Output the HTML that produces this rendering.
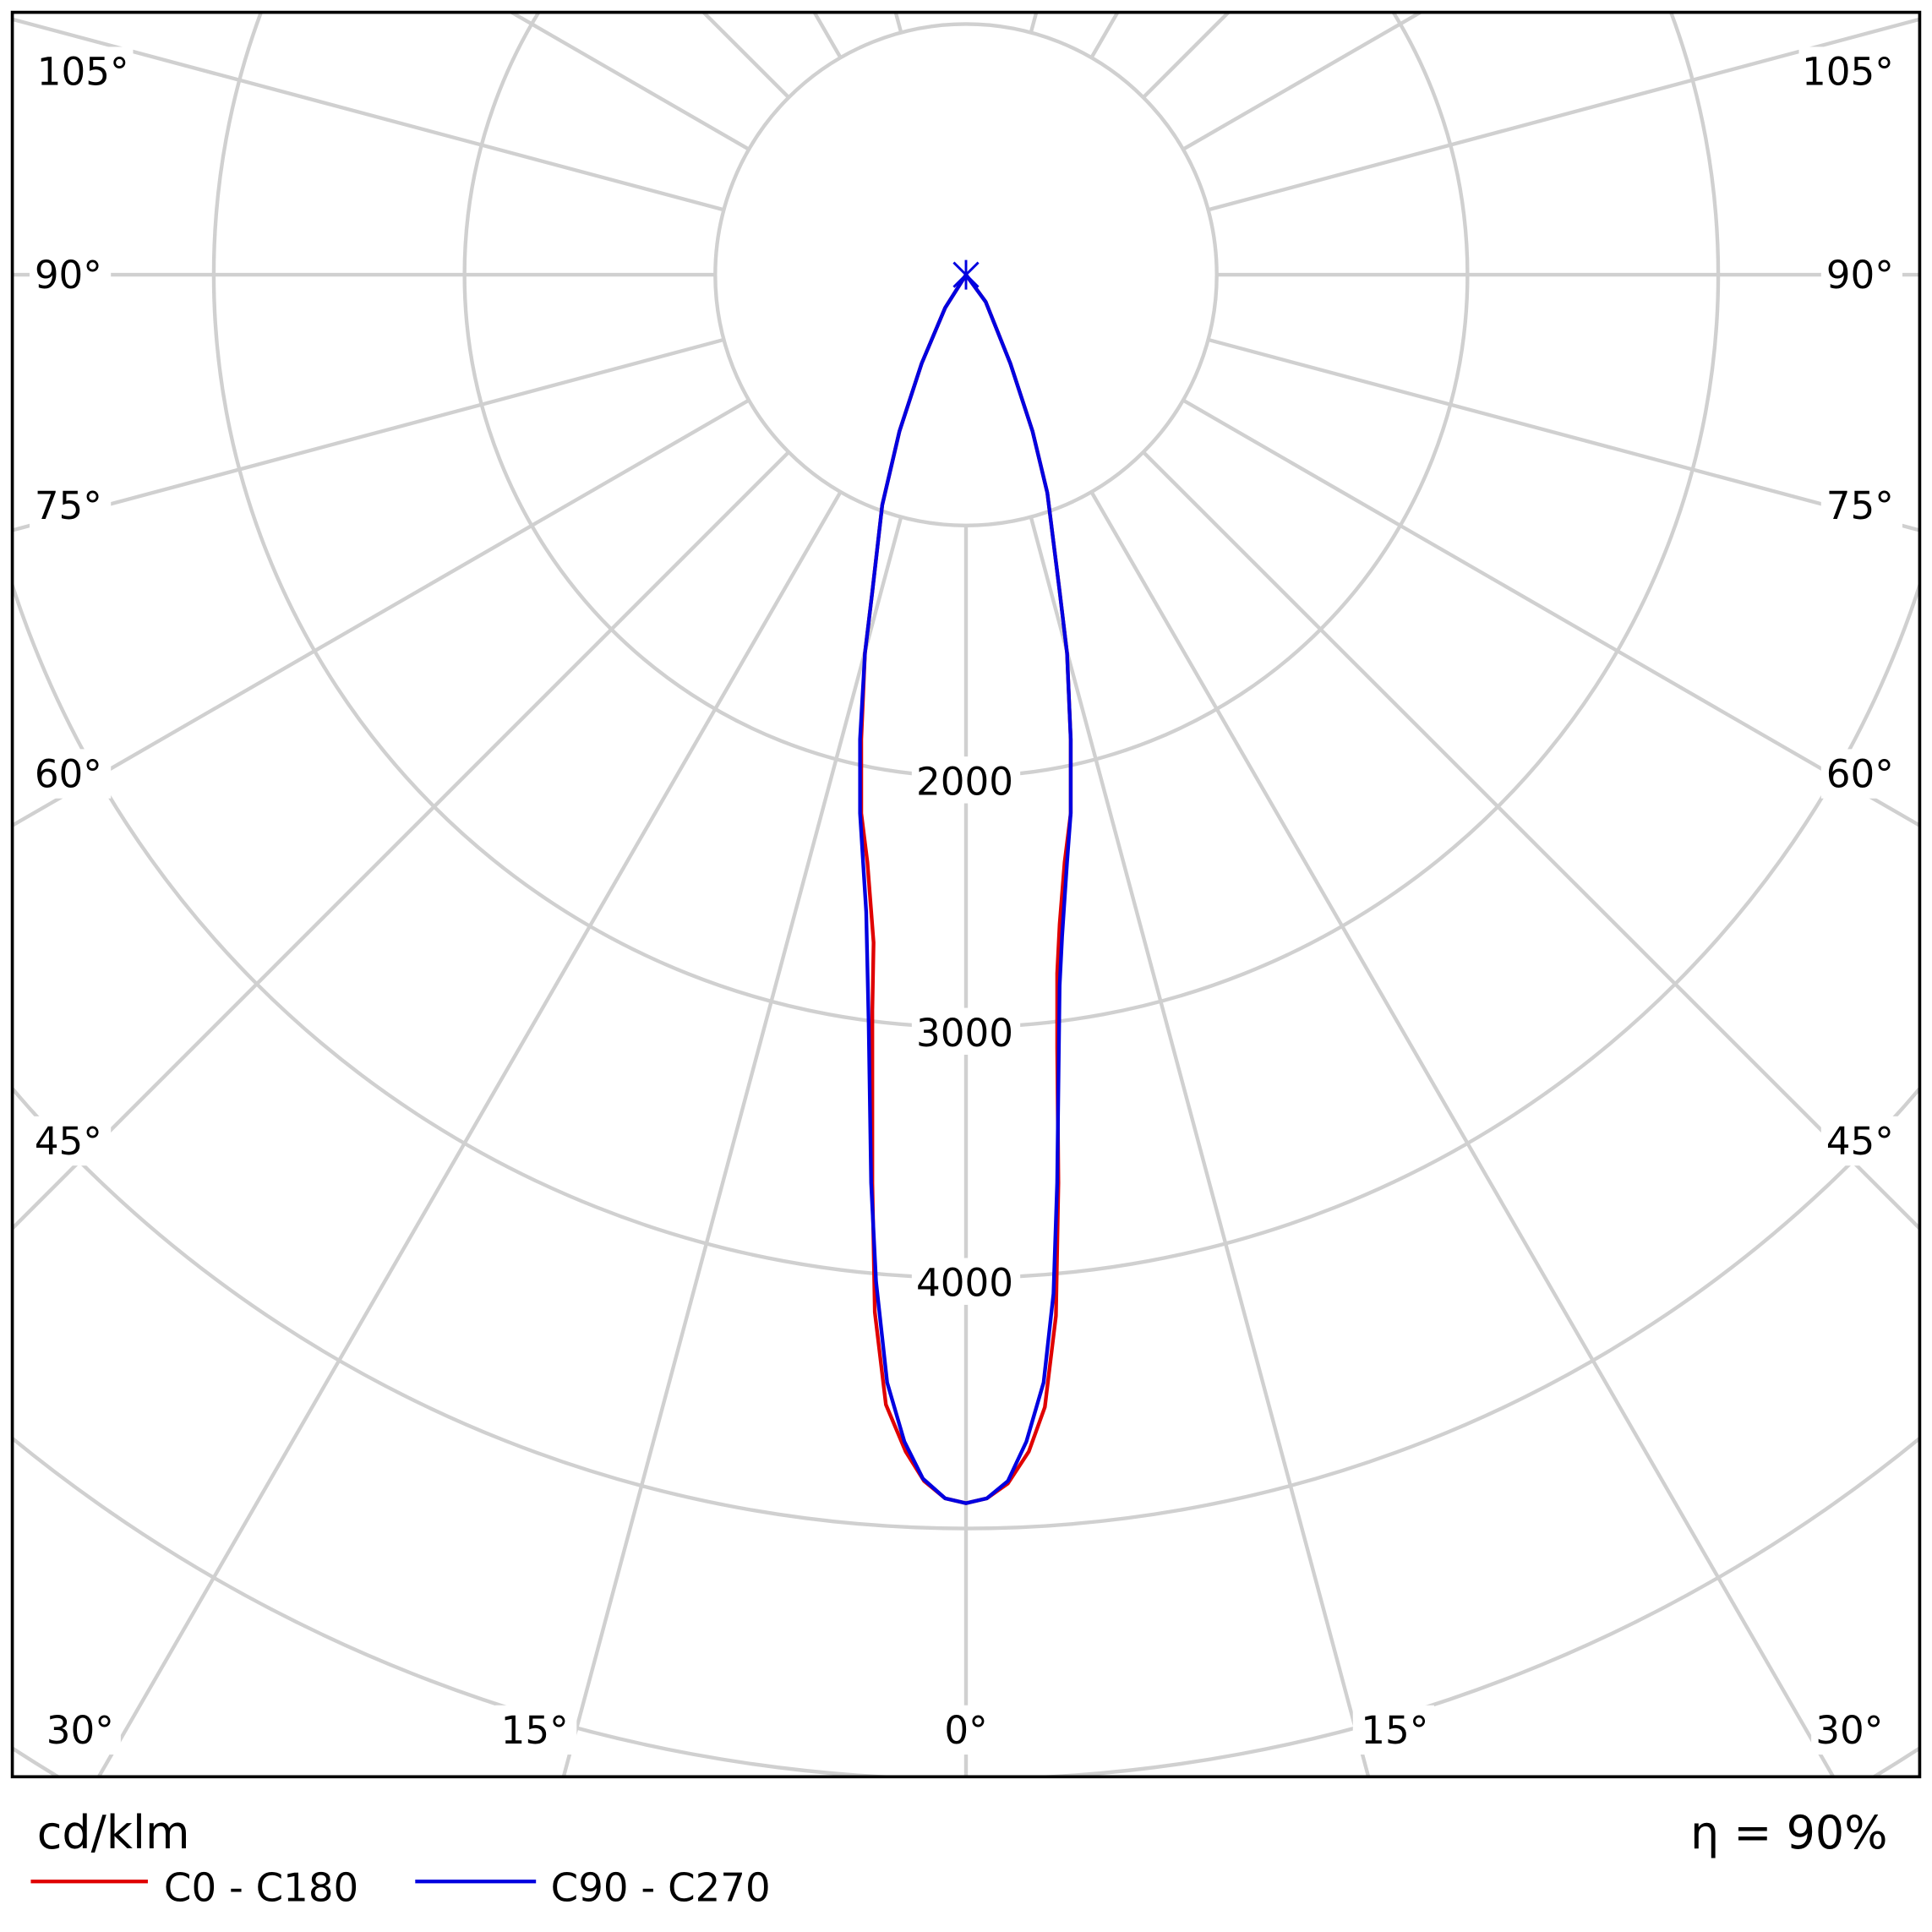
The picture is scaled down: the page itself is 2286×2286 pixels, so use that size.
<!DOCTYPE html>
<html><head><meta charset="utf-8"><style>
html,body{margin:0;padding:0;background:#fff;width:2286px;height:2286px;overflow:hidden;position:relative}
svg{display:block;position:absolute;left:0;top:0;line-height:0}
text{font-family:"DejaVu Sans","Liberation Sans",sans-serif;fill:#000}
</style></head><body>
<svg width="2286" height="2286" viewBox="0 0 1568 1568" xmlns="http://www.w3.org/2000/svg">
<defs><clipPath id="c"><rect x="10" y="10" width="1548" height="1432"/></clipPath></defs>
<rect width="1568" height="1568" fill="#fff"/>
<g clip-path="url(#c)" stroke="#d0d0d0" stroke-width="3" fill="none">
<circle cx="784" cy="223" r="203.5"/>
<circle cx="784" cy="223" r="407"/>
<circle cx="784" cy="223" r="610.5"/>
<circle cx="784" cy="223" r="814"/>
<circle cx="784" cy="223" r="1017.5"/>
<circle cx="784" cy="223" r="1221"/>
<circle cx="784" cy="223" r="1424.5"/>
<circle cx="784" cy="223" r="1628"/>
<g transform="translate(784,223)">
<line x1="0" y1="203.5" x2="0" y2="2500"/>
<line x1="52.7" y1="196.6" x2="647" y2="2415"/>
<line x1="-52.7" y1="196.6" x2="-647" y2="2415"/>
<line x1="101.8" y1="176.2" x2="1250" y2="2165"/>
<line x1="-101.8" y1="176.2" x2="-1250" y2="2165"/>
<line x1="143.9" y1="143.9" x2="1768" y2="1768"/>
<line x1="-143.9" y1="143.9" x2="-1768" y2="1768"/>
<line x1="176.2" y1="101.8" x2="2165" y2="1250"/>
<line x1="-176.2" y1="101.8" x2="-2165" y2="1250"/>
<line x1="196.6" y1="52.7" x2="2415" y2="647"/>
<line x1="-196.6" y1="52.7" x2="-2415" y2="647"/>
<line x1="203.5" y1="0" x2="2500" y2="0"/>
<line x1="-203.5" y1="0" x2="-2500" y2="0"/>
<line x1="196.6" y1="-52.7" x2="2415" y2="-647"/>
<line x1="-196.6" y1="-52.7" x2="-2415" y2="-647"/>
<line x1="176.2" y1="-101.8" x2="2165" y2="-1250"/>
<line x1="-176.2" y1="-101.8" x2="-2165" y2="-1250"/>
<line x1="143.9" y1="-143.9" x2="1768" y2="-1768"/>
<line x1="-143.9" y1="-143.9" x2="-1768" y2="-1768"/>
<line x1="101.8" y1="-176.2" x2="1250" y2="-2165"/>
<line x1="-101.8" y1="-176.2" x2="-1250" y2="-2165"/>
<line x1="52.7" y1="-196.6" x2="647" y2="-2415"/>
<line x1="-52.7" y1="-196.6" x2="-647" y2="-2415"/>
</g>
</g>
<g font-size="31" text-anchor="middle">
<rect x="740" y="614" width="88" height="38" fill="#fff"/><text x="783" y="645">2000</text>
<rect x="740" y="818" width="88" height="38" fill="#fff"/><text x="783" y="849">3000</text>
<rect x="740" y="1021" width="88" height="38" fill="#fff"/><text x="783" y="1052">4000</text>
</g>
<g font-size="31">
<g fill="#fff">
<rect x="24" y="38" width="84" height="40"/><rect x="1460" y="38" width="84" height="40"/>
<rect x="24" y="203" width="66" height="40"/><rect x="1478" y="203" width="66" height="40"/>
<rect x="24" y="390" width="66" height="40"/><rect x="1478" y="390" width="66" height="40"/>
<rect x="24" y="608" width="66" height="40"/><rect x="1478" y="608" width="66" height="40"/>
<rect x="24" y="906" width="66" height="40"/><rect x="1478" y="906" width="66" height="40"/>
<rect x="32" y="1384" width="66" height="40"/><rect x="1470" y="1384" width="66" height="40"/>
<rect x="402" y="1384" width="66" height="40"/><rect x="1098" y="1384" width="66" height="40"/>
<rect x="760" y="1384" width="48" height="40"/>
</g>
<text x="30" y="69">105°</text><text x="1537" y="69" text-anchor="end">105°</text>
<text x="28" y="234">90°</text><text x="1537" y="234" text-anchor="end">90°</text>
<text x="28" y="421">75°</text><text x="1537" y="421" text-anchor="end">75°</text>
<text x="28" y="639">60°</text><text x="1537" y="639" text-anchor="end">60°</text>
<text x="28" y="937">45°</text><text x="1537" y="937" text-anchor="end">45°</text>
<text x="65" y="1415" text-anchor="middle">30°</text><text x="1501" y="1415" text-anchor="middle">30°</text>
<text x="434" y="1415" text-anchor="middle">15°</text><text x="1132" y="1415" text-anchor="middle">15°</text>
<text x="784" y="1415" text-anchor="middle">0°</text>
</g>
<g fill="none" stroke-width="3" stroke-linejoin="round">
<polyline stroke="#e00000" points="784,223 767,250 748,295 730,350 716,410 708,480 702,530 699,600 699,660 704,700 709,765 708,820 708,960 710,1065 719,1140 735,1178 750,1202 767,1216 784,1220 801,1216 818,1204 835,1178 848,1142 857,1068 859,960 858,850 858,790 860,750 864,700 869,660 869,600 866,530 860,480 850,400 838,350 820,295 800,245 784,223"/>
<polyline stroke="#0000e0" points="784,223 767,250 748,295 730,350 716,410 708,480 702,530 698,600 698,660 703,740 705,830 707,960 711,1040 720,1122 734,1170 749,1200 767,1216 784,1220 801,1216 818,1202 833,1170 847,1122 855,1050 858,960 860,800 862,760 866,700 869,660 869,600 866,530 860,480 850,400 838,350 820,295 800,245 784,223"/>
<path d="M774 213 L794 233 M794 213 L774 233 M784 211 L784 235" stroke="#0000e0" stroke-width="2"/>
</g>
<rect x="10" y="10" width="1548" height="1432" fill="none" stroke="#000" stroke-width="2.5"/>
<text x="30" y="1500" font-size="37">cd/klm</text>
<text x="1532" y="1500" font-size="37" text-anchor="end">η = 90%</text>
<line x1="25" y1="1527" x2="120" y2="1527" stroke="#e00000" stroke-width="3"/>
<text x="133" y="1543" font-size="32">C0 - C180</text>
<line x1="337" y1="1527" x2="435" y2="1527" stroke="#0000e0" stroke-width="3"/>
<text x="447" y="1543" font-size="32">C90 - C270</text>
</svg>
</body></html>
